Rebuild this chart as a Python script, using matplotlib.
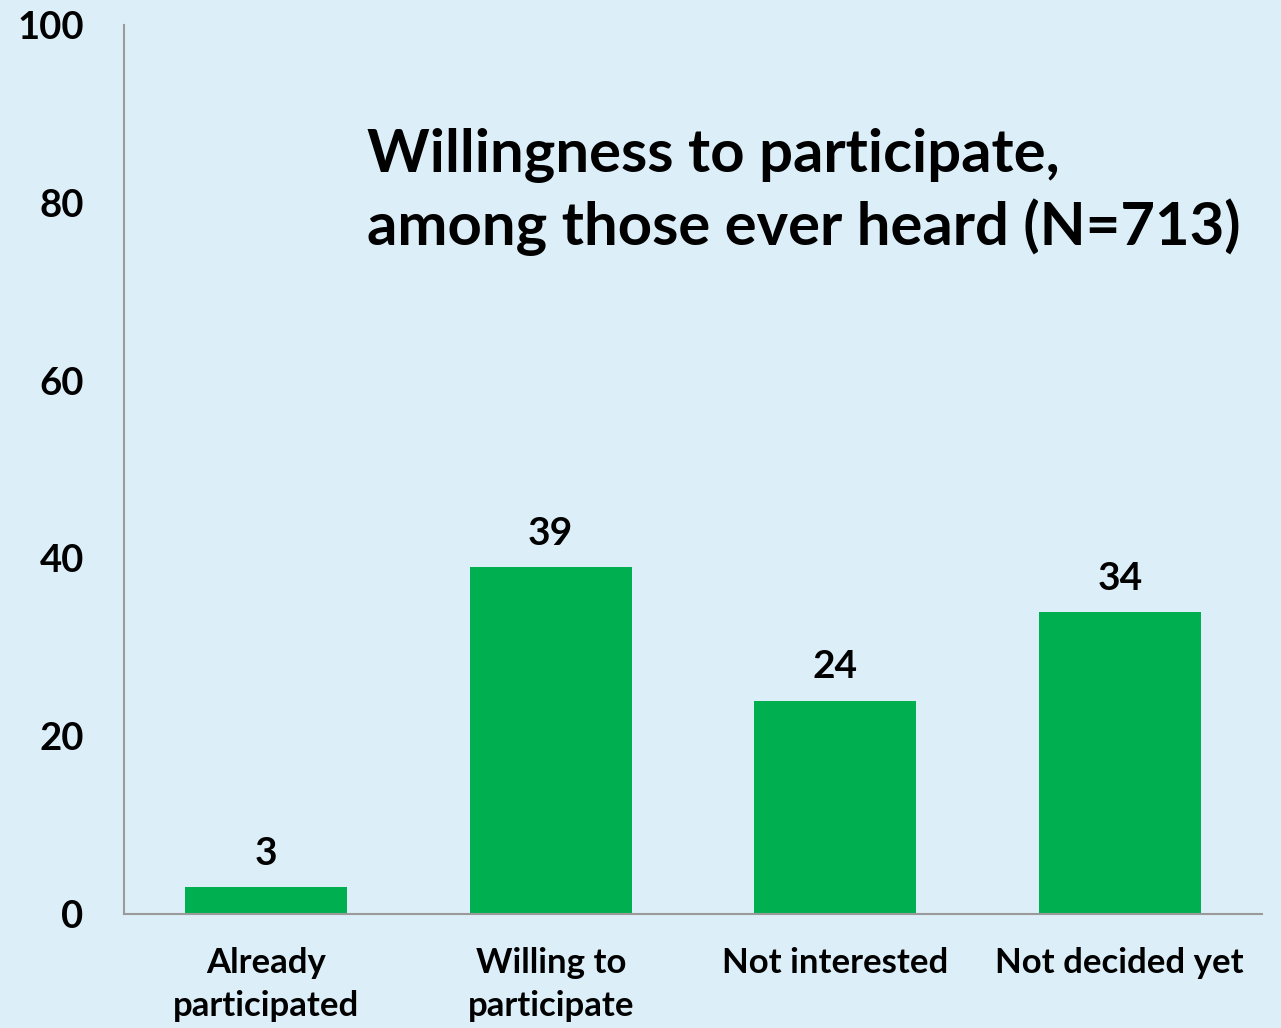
import matplotlib.pyplot as plt

categories = ['Already\nparticipated', 'Willing to\nparticipate', 'Not interested', 'Not decided yet']
values = [3, 39, 24, 34]
yticks = [0, 20, 40, 60, 80, 100]

bg = '#DCEEF8'
green = '#00B050'

plt.rcParams['font.family'] = ['Lato', 'DejaVu Sans']
plt.rcParams['font.weight'] = 'bold'

fig = plt.figure(figsize=(12.81, 10.28), dpi=100, facecolor=bg)
ax = fig.add_axes([124 / 1281, 114 / 1028, 1138 / 1281, 889 / 1028])
ax.set_facecolor(bg)

x = [i + 0.5 for i in range(len(categories))]
bars = ax.bar(x, values, width=0.57, color=green)
ax.set_xlim(0, 4)
ax.set_ylim(0, 100)

# value labels above each bar
for b, v in zip(bars, values):
    ax.text(b.get_x() + b.get_width() / 2, v + 2.5, str(v), ha='center', va='baseline',
            fontsize=28, fontweight='bold')

ax.set_yticks(yticks)
ax.set_yticklabels([str(t) for t in yticks], fontsize=27.5, fontweight='bold')
ax.set_xticks(x)
ax.set_xticklabels(categories, fontsize=25, fontweight='bold', linespacing=1.42)
ax.tick_params(axis='both', length=0)
ax.tick_params(axis='y', pad=29)
ax.tick_params(axis='x', pad=24)

for s in ['top', 'right']:
    ax.spines[s].set_visible(False)
for s in ['left', 'bottom']:
    ax.spines[s].set_color('#9A9A9A')
    ax.spines[s].set_linewidth(1.5)

ax.text(0.2135, 0.7525, 'Willingness to participate,\namong those ever heard (N=713)',
        transform=ax.transAxes, ha='left', va='baseline', fontsize=43, fontweight='bold',
        linespacing=1.32)

fig.savefig('out.png', dpi=100, facecolor=bg)
